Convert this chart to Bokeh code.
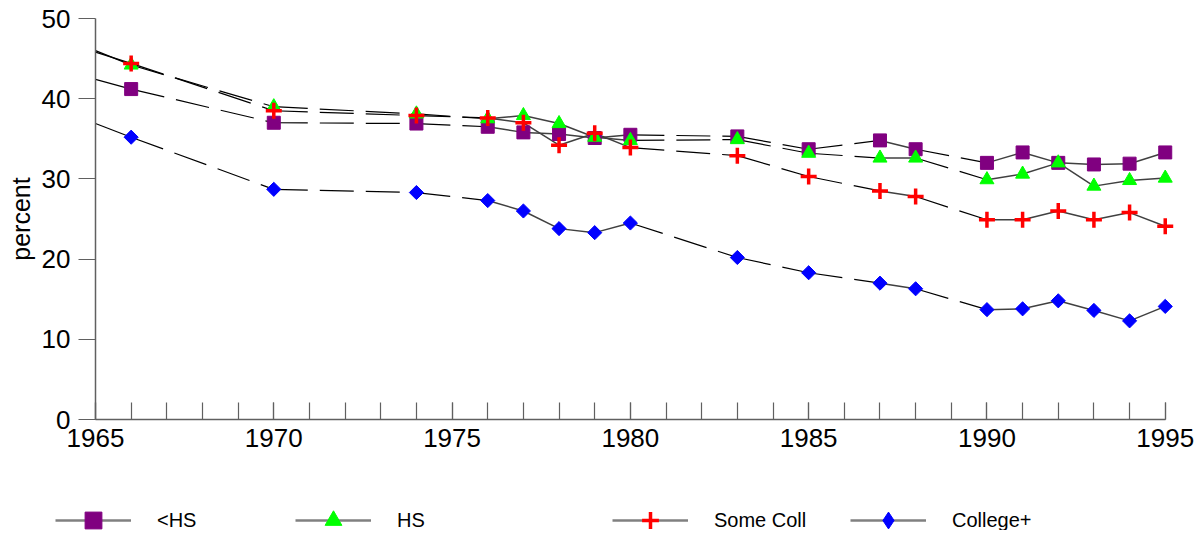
import math
from bokeh.plotting import figure
from bokeh.layouts import column
from bokeh.models import FixedTicker, Legend, LegendItem, ColumnDataSource, Range1d
from bokeh.embed import file_html
from bokeh.resources import INLINE

# ---- data ----
years = [1966, 1970, 1974, 1976, 1977, 1978, 1979, 1980, 1983, 1985,
         1987, 1988, 1990, 1991, 1992, 1993, 1994, 1995]
start_year = 1965
lt_hs = [41.2, 37.0, 36.9, 36.5, 35.8, 35.6, 35.1, 35.5, 35.3, 33.7,
         34.8, 33.7, 32.0, 33.3, 32.0, 31.8, 31.9, 33.3]
hs = [44.2, 39.0, 38.1, 37.5, 37.9, 36.9, 35.2, 34.8, 34.9, 33.2,
      32.6, 32.6, 29.9, 30.6, 32.0, 29.1, 29.8, 30.1]
some_coll = [44.4, 38.5, 37.9, 37.6, 37.0, 34.2, 35.7, 33.9, 32.9, 30.3,
             28.5, 27.8, 24.9, 24.9, 26.0, 24.9, 25.8, 24.1]
college = [35.2, 28.7, 28.3, 27.3, 26.0, 23.8, 23.3, 24.5, 20.2, 18.3,
           17.0, 16.3, 13.7, 13.8, 14.8, 13.6, 12.3, 14.1]
# line start values at 1965 (trend lead-in, no marker)
start_vals = {"<HS": 42.4, "HS": 46.0, "Some Coll": 45.8, "College+": 36.9}

series_names = ["<HS", "HS", "Some Coll", "College+"]
series_vals = [lt_hs, hs, some_coll, college]
x_ticks = [1965, 1970, 1975, 1980, 1985, 1990, 1995]
y_ticks = [0, 10, 20, 30, 40, 50]

styles = {
    "<HS": dict(marker="square", fill_color="#800080", line_color="#800080", size=13, line_width=1, angle=0),
    "HS": dict(marker="triangle", fill_color="#00FF00", line_color="#00FF00", size=14, line_width=1, angle=0),
    "Some Coll": dict(marker="cross", fill_color="#FF0000", line_color="#FF0000", size=16, line_width=3.5, angle=0),
    "College+": dict(marker="square", fill_color="#0000FF", line_color="#0000FF", size=10, line_width=1, angle=math.pi / 4),
}
legend_markers = {"<HS": "square", "HS": "triangle", "Some Coll": "cross", "College+": "diamond"}

FONT = "Liberation Sans"
W = 1195

p = figure(width=W, height=470, output_backend="svg", toolbar_location=None,
           x_range=Range1d(1965, 1995.4), y_range=Range1d(0, 50),
           min_border_left=95, min_border_right=16, min_border_top=18, min_border_bottom=51)
p.outline_line_color = None
p.xgrid.visible = False
p.ygrid.visible = False
p.frame_align = False

# segments: solid between consecutive years, dashed across gaps / lead-in
for name, vals in zip(series_names, series_vals):
    xs = [start_year] + years
    ys = [start_vals[name]] + vals
    solid = dict(x0=[], y0=[], x1=[], y1=[])
    dashed = dict(x0=[], y0=[], x1=[], y1=[])
    for i in range(len(xs) - 1):
        tgt = solid if (i > 0 and xs[i + 1] - xs[i] == 1) else dashed
        tgt["x0"].append(xs[i]); tgt["y0"].append(ys[i])
        tgt["x1"].append(xs[i + 1]); tgt["y1"].append(ys[i + 1])
    p.segment(x0="x0", y0="y0", x1="x1", y1="y1", source=ColumnDataSource(dashed),
              line_color="black", line_width=1.2, line_dash="34 12")
    p.segment(x0="x0", y0="y0", x1="x1", y1="y1", source=ColumnDataSource(solid),
              line_color="#404040", line_width=1.5)

for name, vals in zip(series_names, series_vals):
    st = styles[name]
    p.scatter(x=years, y=vals, marker=st["marker"], size=st["size"], angle=st["angle"],
              fill_color=st["fill_color"], line_color=st["line_color"],
              line_width=st["line_width"])

# axes
p.xaxis.ticker = FixedTicker(ticks=x_ticks, minor_ticks=list(range(1965, 1996)))
p.xaxis.bounds = (1965, 1995)
p.yaxis.ticker = FixedTicker(ticks=y_ticks, minor_ticks=[])
for ax in (p.xaxis[0], p.yaxis[0]):
    ax.axis_line_color = "#606060"
    ax.axis_line_width = 1.5
    ax.major_tick_line_color = "#606060"
    ax.minor_tick_line_color = "#606060"
    ax.major_tick_line_width = 1.2
    ax.minor_tick_line_width = 1.2
    ax.major_label_text_font = FONT
    ax.major_label_text_font_size = "26px"
    ax.major_label_text_color = "black"
p.xaxis.major_tick_in = 17
p.xaxis.major_tick_out = 0
p.xaxis.minor_tick_in = 17
p.xaxis.minor_tick_out = 0
p.xaxis.major_label_standoff = 9
p.yaxis.major_tick_in = 0
p.yaxis.major_tick_out = 17
p.yaxis.minor_tick_in = 0
p.yaxis.minor_tick_out = 0
p.yaxis.major_label_standoff = 8
p.yaxis.axis_label = "percent"
p.yaxis.axis_label_text_font = FONT
p.yaxis.axis_label_text_font_size = "25px"
p.yaxis.axis_label_text_font_style = "normal"
p.yaxis.axis_label_text_color = "black"
p.yaxis.axis_label_standoff = 4

# legend strip (separate figure so nothing is clipped by the main frame)
lg = figure(width=W, height=60, output_backend="svg", toolbar_location=None,
            x_range=Range1d(0, 1), y_range=Range1d(0, 1),
            min_border_left=0, min_border_right=0, min_border_top=0, min_border_bottom=0)
lg.axis.visible = False
lg.xgrid.visible = False
lg.ygrid.visible = False
lg.outline_line_color = None
lg.frame_align = False

nan = float("nan")
legend_x = [55, 295, 612, 850]
for name, lx in zip(series_names, legend_x):
    st = styles[name]
    # legend proxies: a single NaN point, so nothing is drawn in the strip itself
    ln = lg.line(x=[nan], y=[nan], line_color="#808080", line_width=2.5)
    sc = lg.scatter(x=[nan], y=[nan], marker=legend_markers[name], size=st["size"],
                    fill_color=st["fill_color"], line_color=st["line_color"],
                    line_width=st["line_width"])
    leg = Legend(items=[LegendItem(label=name, renderers=[ln, sc])],
                 location=(lx, -11), orientation="horizontal",
                 glyph_width=76, glyph_height=42, label_height=20,
                 label_standoff=26, padding=0, margin=0, spacing=0,
                 border_line_alpha=0, background_fill_alpha=0,
                 label_text_font=FONT, label_text_font_size="20px",
                 label_text_color="black")
    lg.add_layout(leg, "center")

layout = column(p, lg, spacing=0)
open("out.html", "w").write(file_html(layout, INLINE))
